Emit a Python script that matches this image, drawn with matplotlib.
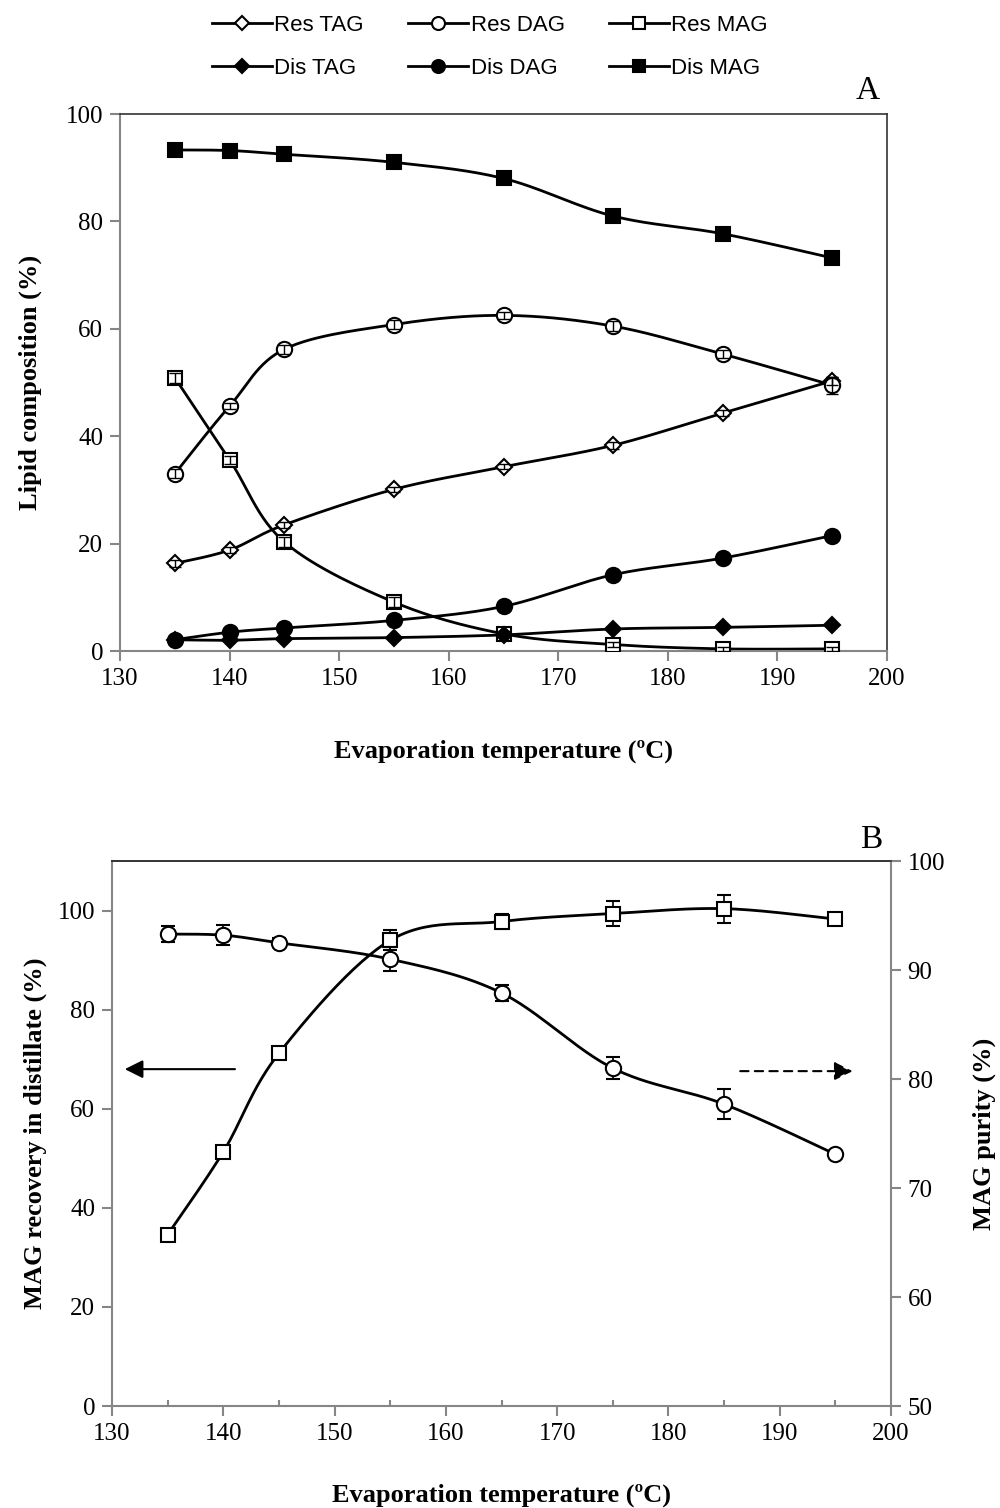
import numpy as np
import matplotlib
matplotlib.use('Agg')
import matplotlib.pyplot as plt
from matplotlib import font_manager
from matplotlib.lines import Line2D
from matplotlib.ticker import MultipleLocator

# data
temps = [135, 140, 145, 155, 165, 175, 185, 195]

res_tag = [16.3, 18.8, 23.5, 30.1, 34.3, 38.3, 44.3, 50.3]
res_dag = [33.0, 45.6, 56.2, 60.8, 62.5, 60.5, 55.3, 49.5]
res_mag = [50.9, 35.6, 20.3, 9.1, 3.2, 1.2, 0.4, 0.4]
dis_tag = [2.1, 2.0, 2.3, 2.5, 3.0, 4.1, 4.4, 4.8]
dis_dag = [2.1, 3.5, 4.3, 5.7, 8.3, 14.2, 17.3, 21.5]
dis_mag = [93.3, 93.2, 92.5, 91.0, 88.0, 81.0, 77.7, 73.2]

res_tag_err = [0.6, 0.5, 0.6, 0.5, 0.5, 0.6, 0.5, 0.8]
res_dag_err = [0.8, 0.6, 0.8, 0.9, 0.6, 0.9, 0.7, 1.6]
res_mag_err = [0.9, 0.8, 0.9, 0.9, 0.6, 0.5, 0.4, 0.4]

mag_recovery = [34.6, 51.3, 71.2, 94.0, 97.8, 99.4, 100.4, 98.3]
mag_recovery_err = [1.0, 1.2, 1.0, 2.0, 1.5, 2.5, 2.8, 1.2]
mag_purity = [93.3, 93.2, 92.5, 91.0, 87.9, 81.0, 77.7, 73.1]
mag_purity_err = [0.7, 0.9, 0.4, 1.1, 0.7, 1.0, 1.4, 0.3]

serif = 'Liberation Serif'
names = {f.name for f in font_manager.fontManager.ttflist}
legend_font = 'Liberation Sans Narrow' if 'Liberation Sans Narrow' in names else 'Liberation Sans'
plt.rcParams['font.family'] = [serif, 'DejaVu Serif']

GRAY = '#868686'


def smooth(x, y, ax_w, ax_h, n=30):
    # Excel style smoothed line (Catmull-Rom as cubic Bezier) in screen-like units
    x = np.asarray(x, float) / ax_w
    y = np.asarray(y, float) / ax_h
    pts = np.column_stack([x, y])
    pts = np.vstack([pts[0], pts, pts[-1]])
    out = []
    t = np.linspace(0, 1, n)[:, None]
    for i in range(1, len(pts) - 2):
        p0, p1, p2, p3 = pts[i - 1], pts[i], pts[i + 1], pts[i + 2]
        c1 = p1 + (p2 - p0) / 6
        c2 = p2 - (p3 - p1) / 6
        seg = ((1 - t) ** 3) * p1 + 3 * ((1 - t) ** 2) * t * c1 + 3 * (1 - t) * t ** 2 * c2 + t ** 3 * p2
        out.append(seg if i == 1 else seg[1:])
    out = np.vstack(out)
    return out[:, 0] * ax_w, out[:, 1] * ax_h


def style_axes(ax, right_gray=False):
    for s in ['left', 'bottom']:
        ax.spines[s].set_color(GRAY)
        ax.spines[s].set_linewidth(1.5)
    ax.spines['top'].set_color('#333333')
    ax.spines['top'].set_linewidth(1.2)
    ax.spines['right'].set_color(GRAY if right_gray else '#333333')
    ax.spines['right'].set_linewidth(1.5 if right_gray else 1.2)
    ax.tick_params(direction='out', length=7, width=1.5, color=GRAY, labelsize=18, pad=5)


fig = plt.figure(figsize=(10, 15.08), dpi=100)

# ---------------- panel A ----------------
ax1 = fig.add_axes([0.120, 0.5683, 0.767, 0.3561])
series = [
    (res_tag, res_tag_err, 'D', 'white', 'Res TAG', 8),
    (res_dag, res_dag_err, 'o', 'white', 'Res DAG', 11),
    (res_mag, res_mag_err, 's', 'white', 'Res MAG', 10),
    (dis_tag, None, 'D', 'black', 'Dis TAG', 8),
    (dis_dag, None, 'o', 'black', 'Dis DAG', 11),
    (dis_mag, None, 's', 'black', 'Dis MAG', 10),
]
handles = {}
for vals, err, mk, fc, lab, ms in series:
    sx, sy = smooth(temps, vals, 70, 100 * 536 / 767)
    ax1.plot(sx, sy, color='black', lw=2, zorder=2)
    ax1.plot(temps, vals, ls='none', marker=mk, ms=ms, mfc=fc, mec='black', mew=1.5, zorder=3)
    if err is not None:
        ax1.errorbar(temps, vals, yerr=err, fmt='none', ecolor='black', elinewidth=1, capsize=4, capthick=1, zorder=4)
    handles[lab] = Line2D([], [], color='black', lw=2, marker=mk, ms=ms * 0.85, mfc=fc, mec='black', mew=1.5)

ax1.set_xlim(130, 200)
ax1.set_ylim(0, 100)
ax1.set_xticks(range(130, 201, 10))
ax1.set_yticks(range(0, 101, 20))
style_axes(ax1)
ax1.set_xlabel('Evaporation temperature (ºC)', fontsize=19, fontweight='bold', labelpad=36)
ax1.set_ylabel('Lipid composition (%)', fontsize=19, fontweight='bold', labelpad=17)
ax1.text(0.975, 1.014, 'A', transform=ax1.transAxes, fontsize=24, ha='center', va='bottom')

order = ['Res TAG', 'Dis TAG', 'Res DAG', 'Dis DAG', 'Res MAG', 'Dis MAG']
fig.legend([handles[k] for k in order], order, loc='upper center', bbox_to_anchor=(0.49, 1.0035),
           ncol=3, frameon=False, handlelength=2.7, handletextpad=0.1, columnspacing=2.0,
           labelspacing=1.0, prop={'family': legend_font, 'size': 16})

# ---------------- panel B ----------------
ax2 = fig.add_axes([0.112, 0.0676, 0.779, 0.3614])
ax3 = ax2.twinx()

sx, sy = smooth(temps, mag_recovery, 70, 110 * 545 / 779)
ax2.plot(sx, sy, color='black', lw=2, zorder=2)
ax2.errorbar(temps, mag_recovery, yerr=mag_recovery_err, fmt='s', ms=10, mfc='white', mec='black', mew=1.5,
             ecolor='black', elinewidth=1.2, capsize=5, capthick=1.2, zorder=3)

sx, sy = smooth(temps, mag_purity, 70, 50 * 545 / 779)
ax3.plot(sx, sy, color='black', lw=2, zorder=2)
ax3.errorbar(temps, mag_purity, yerr=mag_purity_err, fmt='o', ms=11, mfc='white', mec='black', mew=1.5,
             ecolor='black', elinewidth=1.2, capsize=5, capthick=1.2, zorder=3)

ax2.set_xlim(130, 200)
ax2.set_ylim(0, 110)
ax2.set_xticks(range(130, 201, 10))
ax2.xaxis.set_minor_locator(MultipleLocator(5))
ax2.set_yticks(range(0, 101, 20))
ax3.set_ylim(50, 100)
ax3.set_yticks(range(50, 101, 10))
style_axes(ax2)
style_axes(ax3, right_gray=True)
ax2.tick_params(axis='x', which='minor', direction='in', length=4, width=1.5, color=GRAY)
ax3.spines['left'].set_visible(False)
ax3.spines['bottom'].set_visible(False)
ax2.spines['right'].set_visible(False)

ax2.set_xlabel('Evaporation temperature (ºC)', fontsize=19, fontweight='bold', labelpad=28)
ax2.set_ylabel('MAG recovery in distillate (%)', fontsize=19, fontweight='bold', labelpad=8)
ax3.set_ylabel('MAG purity (%)', fontsize=19, fontweight='bold', labelpad=20)
ax2.text(0.975, 1.012, 'B', transform=ax2.transAxes, fontsize=24, ha='center', va='bottom')

# arrows pointing to the axis for each curve
ax2.annotate('', xy=(130.9, 68), xytext=(141.3, 68),
             arrowprops=dict(arrowstyle='-|>,head_length=1.1,head_width=0.55', color='black', lw=1.5))
ax2.annotate('', xy=(196.8, 67.6), xytext=(186.2, 67.6),
             arrowprops=dict(arrowstyle='-|>,head_length=1.1,head_width=0.55', color='black', lw=1.5,
                             linestyle=(0, (4, 3))))

fig.savefig('out.png', dpi=100)
